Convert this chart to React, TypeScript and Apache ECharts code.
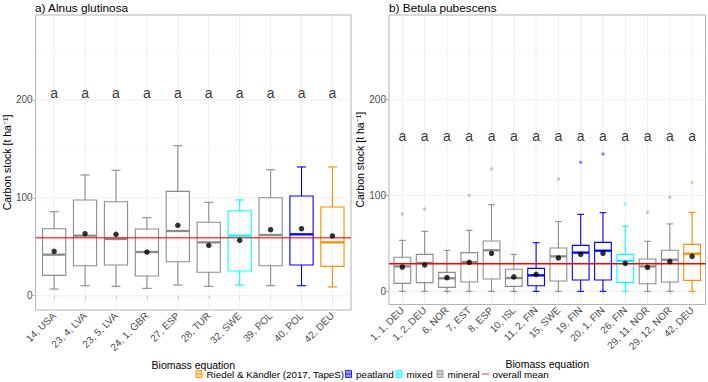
import React, { useEffect, useRef } from "react";
import * as echarts from "echarts";

// ---- Alnus glutinosa ----
const alnusLabels = ["14, USA", "23, 4, LVA", "23, 5, LVA", "24, 1, GBR", "27, ESP", "28, TUR", "32, SWE", "39, POL", "40, POL", "42, DEU"];
const alnusGroups = ["mineral", "mineral", "mineral", "mineral", "mineral", "mineral", "mixed", "mineral", "peatland", "riedel"];
// [lower whisker, Q1, median, Q3, upper whisker]
const alnusStats = [
  [6.8, 20.8, 41.9, 68.4, 85.8],
  [10.2, 30.6, 61.3, 97.8, 123.3],
  [9.6, 31.4, 57.9, 96.0, 128.1],
  [7.5, 20.1, 44.6, 68.1, 79.7],
  [10.9, 34.7, 66.1, 106.6, 153.2],
  [9.6, 23.9, 54.5, 75.0, 95.4],
  [10.9, 25.2, 61.3, 86.8, 97.8],
  [10.2, 30.6, 62.0, 100.1, 128.7],
  [10.2, 31.4, 62.7, 101.8, 131.5],
  [8.9, 30.0, 54.5, 90.6, 131.5],
];
const alnusMeans = [45.3, 63.3, 62.7, 44.6, 71.9, 51.5, 56.6, 67.4, 68.4, 61.0];
const alnusOutliers: number[][] = [[], [], [], [], [], [], [], [], [], []];
const alnusLetters = ["a", "a", "a", "a", "a", "a", "a", "a", "a", "a"];
const alnusLetterY = 207;
const alnusOverallMean = 59.2;

// ---- Betula pubescens ----
const betulaLabels = ["1, 1, DEU", "1, 2, DEU", "6, NOR", "7, EST", "8, ESP", "10, ISL", "11, 2, FIN", "15, SWE", "19, FIN", "20, 1, FIN", "26, FIN", "29, 11, NOR", "29, 12, NOR", "42, DEU"];
const betulaGroups = ["mineral", "mineral", "mineral", "mineral", "mineral", "mineral", "peatland", "mineral", "peatland", "peatland", "mixed", "mineral", "mineral", "riedel"];
const betulaStats = [
  [0, 8.3, 26.1, 35.5, 53.2],
  [0, 9.1, 29.6, 38.6, 62.6],
  [0, 4.2, 13.6, 19.8, 42.8],
  [0, 9.8, 30.6, 40.4, 63.6],
  [0, 12.9, 42.8, 52.5, 90.4],
  [0, 5.2, 13.9, 23.0, 38.6],
  [0, 5.9, 16.7, 24.0, 50.8],
  [0, 10.8, 36.5, 45.2, 72.7],
  [0, 11.8, 40.4, 48.0, 80.3],
  [0, 11.8, 42.4, 51.1, 82.1],
  [0, 9.4, 31.7, 38.6, 67.8],
  [0, 8.0, 26.1, 33.7, 52.2],
  [0, 9.8, 33.0, 42.8, 70.3],
  [0, 11.5, 39.3, 49.0, 82.4],
];
const betulaMeans = [25.4, 27.5, 14.3, 30.3, 39.7, 15.0, 17.7, 34.8, 38.6, 39.7, 29.2, 25.0, 31.0, 36.5];
const betulaOutliers: number[][] = [[80.7], [85.9], [], [100.2], [127.7], [], [], [117.2], [134.6], [143.3], [91.1], [82.4], [98.1], [113.7]];
const betulaLetters = ["a", "a", "a", "a", "a", "a", "a", "a", "a", "a", "a", "a", "a", "a"];
const betulaLetterY = 161.7;
const betulaOverallMean = 28.9;

// shared axis ticks and gridlines
const yTicks = [0, 100, 200];
const yMinorGrid = [50, 150, 250];

const groupColors: Record<string, string> = {
  riedel: "#ff8c00",
  peatland: "#0000ff",
  mixed: "#00ffff",
  mineral: "#8c8c8c",
};

const legendItems = [
  { name: "Riedel & Kändler (2017, TapeS)", key: "riedel" },
  { name: "peatland", key: "peatland" },
  { name: "mixed", key: "mixed" },
  { name: "mineral", key: "mineral" },
  { name: "overall mean", key: "mean" },
];

const FONT = "Liberation Sans, Arial, Helvetica, sans-serif";
const GRID_COLOR = "#ebebeb";
const BORDER = "#b3b3b3";
const TEXT_GREY = "#4d4d4d";

function hexAlpha(hex: string, a: number) {
  const r = parseInt(hex.slice(1, 3), 16);
  const g = parseInt(hex.slice(3, 5), 16);
  const b = parseInt(hex.slice(5, 7), 16);
  return `rgba(${r},${g},${b},${a})`;
}

type Panel = {
  labels: string[];
  groups: string[];
  stats: number[][];
  means: number[];
  outliers: number[][];
  letters: string[];
  letterY: number;
  overallMean: number;
  meanColor: string;
  yMin: number;
  yMax: number;
};

const panels: Panel[] = [
  {
    labels: alnusLabels, groups: alnusGroups, stats: alnusStats, means: alnusMeans,
    outliers: alnusOutliers, letters: alnusLetters, letterY: alnusLetterY,
    overallMean: alnusOverallMean, meanColor: "rgba(255,0,0,0.72)", yMin: -14.6, yMax: 286.7,
  },
  {
    labels: betulaLabels, groups: betulaGroups, stats: betulaStats, means: betulaMeans,
    outliers: betulaOutliers, letters: betulaLetters, letterY: betulaLetterY,
    overallMean: betulaOverallMean, meanColor: "#ff0000", yMin: -13.7, yMax: 288.2,
  },
];

const grids = [
  { left: 35, top: 15, width: 316, height: 295 },
  { left: 389, top: 15, width: 316.5, height: 289.5 },
];

function buildOption() {
  const xAxis: any[] = [];
  const yAxis: any[] = [];
  const series: any[] = [];

  panels.forEach((p, pi) => {
    const n = p.labels.length;
    const cats = p.labels.map((_, i) => i + 1);
    xAxis.push({
      type: "value",
      gridIndex: pi,
      min: 0.4,
      max: n + 0.6,
      name: "Biomass equation",
      nameLocation: "middle",
      nameGap: pi === 0 ? 42 : 47.5,
      nameTextStyle: { fontFamily: FONT, fontSize: 10.5, color: "#000" },
      axisLine: { show: false },
      axisTick: { show: true, length: 3, lineStyle: { color: BORDER }, customValues: cats },
      axisLabel: {
        show: true,
        customValues: cats,
        rotate: 45,
        margin: 4,
        fontFamily: FONT,
        fontSize: 10,
        color: TEXT_GREY,
        formatter: (v: number) => p.labels[Math.round(v) - 1] ?? "",
      },
      splitLine: { show: false },
    });
    yAxis.push({
      type: "value",
      gridIndex: pi,
      min: p.yMin,
      max: p.yMax,
      name: "Carbon stock [t ha⁻¹]",
      nameLocation: "middle",
      nameGap: 22,
      nameTextStyle: { fontFamily: FONT, fontSize: 10.5, color: "#000" },
      axisLine: { show: false },
      axisTick: { show: true, length: 3, lineStyle: { color: BORDER }, customValues: yTicks },
      axisLabel: {
        show: true,
        customValues: yTicks,
        margin: 3,
        fontFamily: FONT,
        fontSize: 10,
        color: TEXT_GREY,
      },
      splitLine: { show: false },
    });

    // background gridlines
    const gridData: any[] = [
      ...yMinorGrid.map((v) => [v, 0]),
      ...yTicks.map((v) => [v, 1]),
      ...cats.map((c) => [c, 2]),
    ];
    series.push({
      type: "custom",
      xAxisIndex: pi,
      yAxisIndex: pi,
      silent: true,
      z: 1,
      data: gridData,
      renderItem: (params: any, api: any) => {
        const cs = params.coordSys;
        const v = api.value(0);
        const kind = api.value(1);
        if (kind === 2) {
          const x = api.coord([v, 0])[0];
          return {
            type: "line",
            shape: { x1: x, y1: cs.y, x2: x, y2: cs.y + cs.height },
            style: { stroke: GRID_COLOR, lineWidth: 0.8 },
          };
        }
        const y = api.coord([1, v])[1];
        return {
          type: "line",
          shape: { x1: cs.x, y1: y, x2: cs.x + cs.width, y2: y },
          style: { stroke: kind === 1 ? GRID_COLOR : "#f3f3f3", lineWidth: kind === 1 ? 0.8 : 0.6 },
        };
      },
    });

    // boxplots
    const boxData = p.stats.map((s, i) => [i + 1, ...s, p.means[i], i]);
    series.push({
      type: "custom",
      xAxisIndex: pi,
      yAxisIndex: pi,
      z: 3,
      data: boxData,
      renderItem: (_params: any, api: any) => {
        const x = api.value(0);
        const idx = api.value(7);
        const color = groupColors[p.groups[idx]];
        const lo = api.coord([x, api.value(1)]);
        const q1 = api.coord([x, api.value(2)]);
        const md = api.coord([x, api.value(3)]);
        const q3 = api.coord([x, api.value(4)]);
        const hi = api.coord([x, api.value(5)]);
        const bw = api.size([0.75, 0])[0];
        const cw = api.size([0.3, 0])[0];
        const cx = lo[0];
        const lw = 1.1;
        return {
          type: "group",
          children: [
            { type: "line", shape: { x1: cx, y1: q3[1], x2: cx, y2: hi[1] }, style: { stroke: color, lineWidth: lw } },
            { type: "line", shape: { x1: cx, y1: q1[1], x2: cx, y2: lo[1] }, style: { stroke: color, lineWidth: lw } },
            { type: "line", shape: { x1: cx - cw / 2, y1: hi[1], x2: cx + cw / 2, y2: hi[1] }, style: { stroke: color, lineWidth: lw } },
            { type: "line", shape: { x1: cx - cw / 2, y1: lo[1], x2: cx + cw / 2, y2: lo[1] }, style: { stroke: color, lineWidth: lw } },
            {
              type: "rect",
              shape: { x: cx - bw / 2, y: q3[1], width: bw, height: q1[1] - q3[1] },
              style: { fill: "none", stroke: color, lineWidth: lw },
            },
            { type: "line", shape: { x1: cx - bw / 2, y1: md[1], x2: cx + bw / 2, y2: md[1] }, style: { stroke: color, lineWidth: 2.3 } },
          ],
        };
      },
    });

    // outliers
    const outData: any[] = [];
    p.outliers.forEach((arr, i) => arr.forEach((v) => outData.push([i + 1, v, i])));
    series.push({
      type: "scatter",
      xAxisIndex: pi,
      yAxisIndex: pi,
      z: 4,
      symbol: "circle",
      symbolSize: 3.6,
      data: outData,
      itemStyle: {
        color: (prm: any) => hexAlpha(groupColors[p.groups[prm.data[2]]], 0.55),
      },
    });

    // overall mean line
    series.push({
      type: "custom",
      xAxisIndex: pi,
      yAxisIndex: pi,
      z: 5,
      silent: true,
      data: [[1, p.overallMean]],
      renderItem: (params: any, api: any) => {
        const cs = params.coordSys;
        const y = api.coord([1, api.value(1)])[1];
        return {
          type: "line",
          shape: { x1: cs.x, y1: y, x2: cs.x + cs.width, y2: y },
          style: { stroke: p.meanColor, lineWidth: 1.5 },
        };
      },
    });

    // group means
    series.push({
      type: "scatter",
      xAxisIndex: pi,
      yAxisIndex: pi,
      z: 6,
      symbol: "circle",
      symbolSize: 5.5,
      itemStyle: { color: "#000" },
      data: p.means.map((m, i) => [i + 1, m]),
    });

    // significance letters
    series.push({
      type: "scatter",
      xAxisIndex: pi,
      yAxisIndex: pi,
      z: 7,
      symbolSize: 0,
      data: p.letters.map((_, i) => [i + 1, p.letterY, i]),
      label: {
        show: true,
        position: "inside",
        fontFamily: FONT,
        fontSize: 14,
        color: "#000",
        formatter: (prm: any) => p.letters[prm.data[2]],
      },
    });
  });

  // legend drawn as graphics
  const legendY = 374;
  const legendX = [196, 345.5, 396, 437, 482];
  const legendChildren: any[] = [];
  legendItems.forEach((it, i) => {
    const x = legendX[i];
    if (it.key === "mean") {
      legendChildren.push({
        type: "line",
        shape: { x1: x, y1: legendY, x2: x + 7, y2: legendY },
        style: { stroke: "rgba(255,0,0,0.45)", lineWidth: 1.8 },
      });
    } else {
      const c = groupColors[it.key];
      legendChildren.push({
        type: "rect",
        shape: { x: x, y: legendY - 3.5, width: 6, height: 7 },
        style: { fill: hexAlpha(c, 0.4), stroke: hexAlpha(c, 0.8), lineWidth: 1 },
      });
      legendChildren.push({
        type: "line",
        shape: { x1: x, y1: legendY, x2: x + 6, y2: legendY },
        style: { stroke: hexAlpha(c, 0.8), lineWidth: 1 },
      });
    }
    legendChildren.push({
      type: "text",
      x: x + 10.5,
      y: legendY,
      style: {
        text: it.name,
        fontFamily: FONT,
        fontSize: 9.8,
        fill: "#000",
        textVerticalAlign: "middle",
        verticalAlign: "middle",
      },
    });
  });

  const titles = [
    { text: "a) Alnus glutinosa", x: 35 },
    { text: "b) Betula pubescens", x: 389 },
  ];

  return {
    animation: false,
    backgroundColor: "#ffffff",
    grid: grids.map((g) => ({
      ...g,
      show: true,
      borderColor: BORDER,
      borderWidth: 1,
      backgroundColor: "transparent",
      containLabel: false,
    })),
    xAxis,
    yAxis,
    series,
    graphic: [
      ...titles.map((t) => ({
        type: "text",
        x: t.x,
        y: 7.5,
        style: {
          text: t.text,
          fontFamily: FONT,
          fontSize: 11.8,
          fill: "#000",
          verticalAlign: "middle",
          textVerticalAlign: "middle",
        },
      })),
      { type: "group", children: legendChildren },
    ],
  };
}

export default function App() {
  const ref = useRef<HTMLDivElement>(null);
  useEffect(() => {
    if (!ref.current) return;
    const chart = echarts.init(ref.current, undefined, { renderer: "svg" });
    chart.setOption(buildOption() as any);
    return () => chart.dispose();
  }, []);
  return <div ref={ref} style={{ width: 708, height: 382, position: "absolute", left: 0, top: 0 }} />;
}
